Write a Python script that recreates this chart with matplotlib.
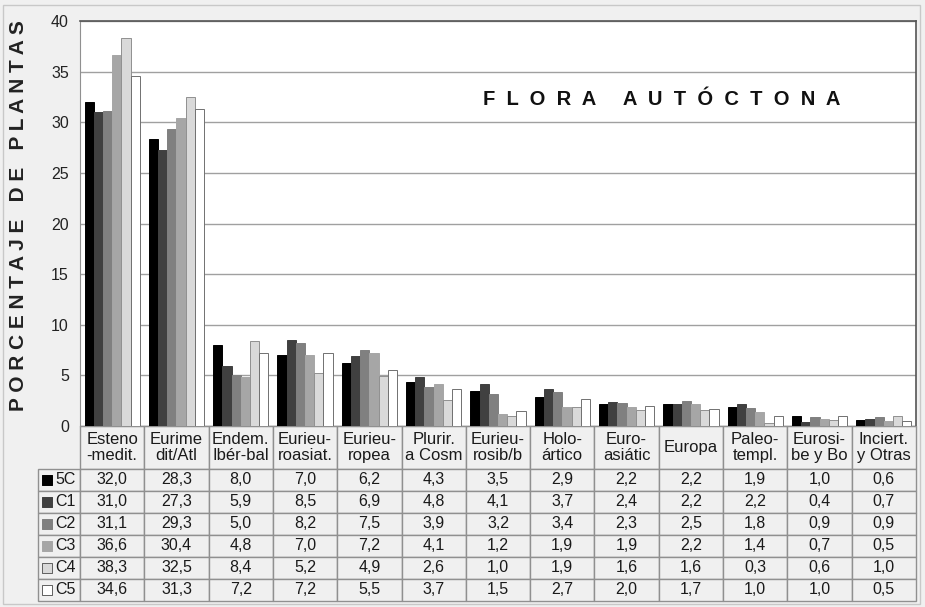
import matplotlib.pyplot as plt
import numpy as np
from matplotlib.patches import Rectangle

plt.rcParams['font.family'] = ['Liberation Sans', 'DejaVu Sans']

# -------------------------
# Data
# -------------------------
categories = ['Esteno\n-medit.', 'Eurime\ndit/Atl', 'Endem.\nIbér-bal', 'Eurieu-\nroasiat.',
              'Eurieu-\nropea', 'Plurir.\na Cosm', 'Eurieu-\nrosib/b', 'Holo-\nártico',
              'Euro-\nasiátic', 'Europa', 'Paleo-\ntempl.', 'Eurosi-\nbe y Bo', 'Inciert.\ny Otras']
series = ['5C', 'C1', 'C2', 'C3', 'C4', 'C5']
v_5c = [32.0, 28.3, 8.0, 7.0, 6.2, 4.3, 3.5, 2.9, 2.2, 2.2, 1.9, 1.0, 0.6]
v_c1 = [31.0, 27.3, 5.9, 8.5, 6.9, 4.8, 4.1, 3.7, 2.4, 2.2, 2.2, 0.4, 0.7]
v_c2 = [31.1, 29.3, 5.0, 8.2, 7.5, 3.9, 3.2, 3.4, 2.3, 2.5, 1.8, 0.9, 0.9]
v_c3 = [36.6, 30.4, 4.8, 7.0, 7.2, 4.1, 1.2, 1.9, 1.9, 2.2, 1.4, 0.7, 0.5]
v_c4 = [38.3, 32.5, 8.4, 5.2, 4.9, 2.6, 1.0, 1.9, 1.6, 1.6, 0.3, 0.6, 1.0]
v_c5 = [34.6, 31.3, 7.2, 7.2, 5.5, 3.7, 1.5, 2.7, 2.0, 1.7, 1.0, 1.0, 0.5]
values = [v_5c, v_c1, v_c2, v_c3, v_c4, v_c5]

colors = ['#000000', '#404040', '#808080', '#a6a6a6', '#d9d9d9', '#ffffff']
edges = ['#000000', '#404040', '#808080', '#a6a6a6', '#909090', '#707070']

W, H = 925, 607
fig = plt.figure(figsize=(W / 100, H / 100), dpi=100, facecolor='#f0f0f0')
fig.patches.append(Rectangle((3 / W, 3 / H), 1 - 8 / W, 1 - 8 / H, transform=fig.transFigure,
                             fill=False, edgecolor='#c8c8c8', lw=1))

ax_left, ax_bot, ax_w, ax_h = 80, 426, 836, 405
ax = fig.add_axes([ax_left / W, 1 - ax_bot / H, ax_w / W, ax_h / H])
ax.set_facecolor('white')

x = np.arange(len(categories))
bw = 0.143
for i, (s, vals) in enumerate(zip(series, values)):
    ax.bar(x + (i - 2.5) * bw, vals, width=bw, color=colors[i], edgecolor=edges[i],
           linewidth=0.7, zorder=3)

ax.set_xlim(-0.5, len(categories) - 0.5)
ax.set_ylim(0, 40)
ax.set_yticks(range(0, 41, 5))
ax.set_xticks([])
ax.tick_params(axis='y', length=0, pad=8, labelsize=11.5, labelcolor='#222222')
ax.yaxis.grid(True, color='#a0a0a0', lw=1, zorder=0)
for side in ['left', 'bottom']:
    ax.spines[side].set_color('#909090')
for side in ['top', 'right']:
    ax.spines[side].set_color('#555555')
    ax.spines[side].set_linewidth(1.2)

ax.text(0.696, 0.805, 'F  L  O  R  A     A  U  T  Ó  C  T  O  N  A', transform=ax.transAxes,
        ha='center', va='center', fontsize=14.5, fontweight='bold', color='#111111')

fig.text(19 / W, 1 - 216 / H, 'P O R C E N T A J E   D E   P L A N T A S', rotation=90,
         ha='center', va='center', fontsize=15, fontweight='bold', color='#222222')

# -------------------------
# Data table
# -------------------------
cell_text = [[s] + [f'{v:.1f}'.replace('.', ',') for v in vals] for s, vals in zip(series, values)]
lab_w, col_w, head_h, row_h = 42, ax_w / len(categories), 43, 22
tab_h = head_h + row_h * len(series)
tbl = ax.table(cellText=cell_text, colLabels=[''] + categories, cellLoc='center',
               bbox=[-lab_w / ax_w, -tab_h / ax_h, (lab_w + ax_w) / ax_w, tab_h / ax_h])
tbl.auto_set_font_size(False)
tbl.set_fontsize(11.5)
for (r, c), cell in tbl.get_celld().items():
    cell.set_width(lab_w if c == 0 else col_w)
    cell.set_height(head_h if r == 0 else row_h)
    cell.set_facecolor('#f0f0f0')
    cell.set_edgecolor('#909090')
    cell.get_text().set_color('#1a1a1a')
    if r == 0:
        cell.get_text().set_fontsize(12)
        cell.get_text().set_linespacing(1.1)
    if r == 0 and c == 0:
        cell.set_visible(False)
    if c == 0 and r > 0:
        cell._loc = 'right'
        cell.PAD = 0.1
        cell.get_text().set_ha('right')

for i in range(len(series)):
    yc = -(head_h + row_h * i + row_h / 2) / ax_h
    ax.scatter([(-lab_w + 9) / ax_w], [yc], marker='s', s=45, color=colors[i],
               edgecolors='#606060' if i >= 4 else colors[i], linewidths=0.7,
               transform=ax.transAxes, clip_on=False, zorder=5)

fig.savefig('out.png', dpi=100, facecolor=fig.get_facecolor())
